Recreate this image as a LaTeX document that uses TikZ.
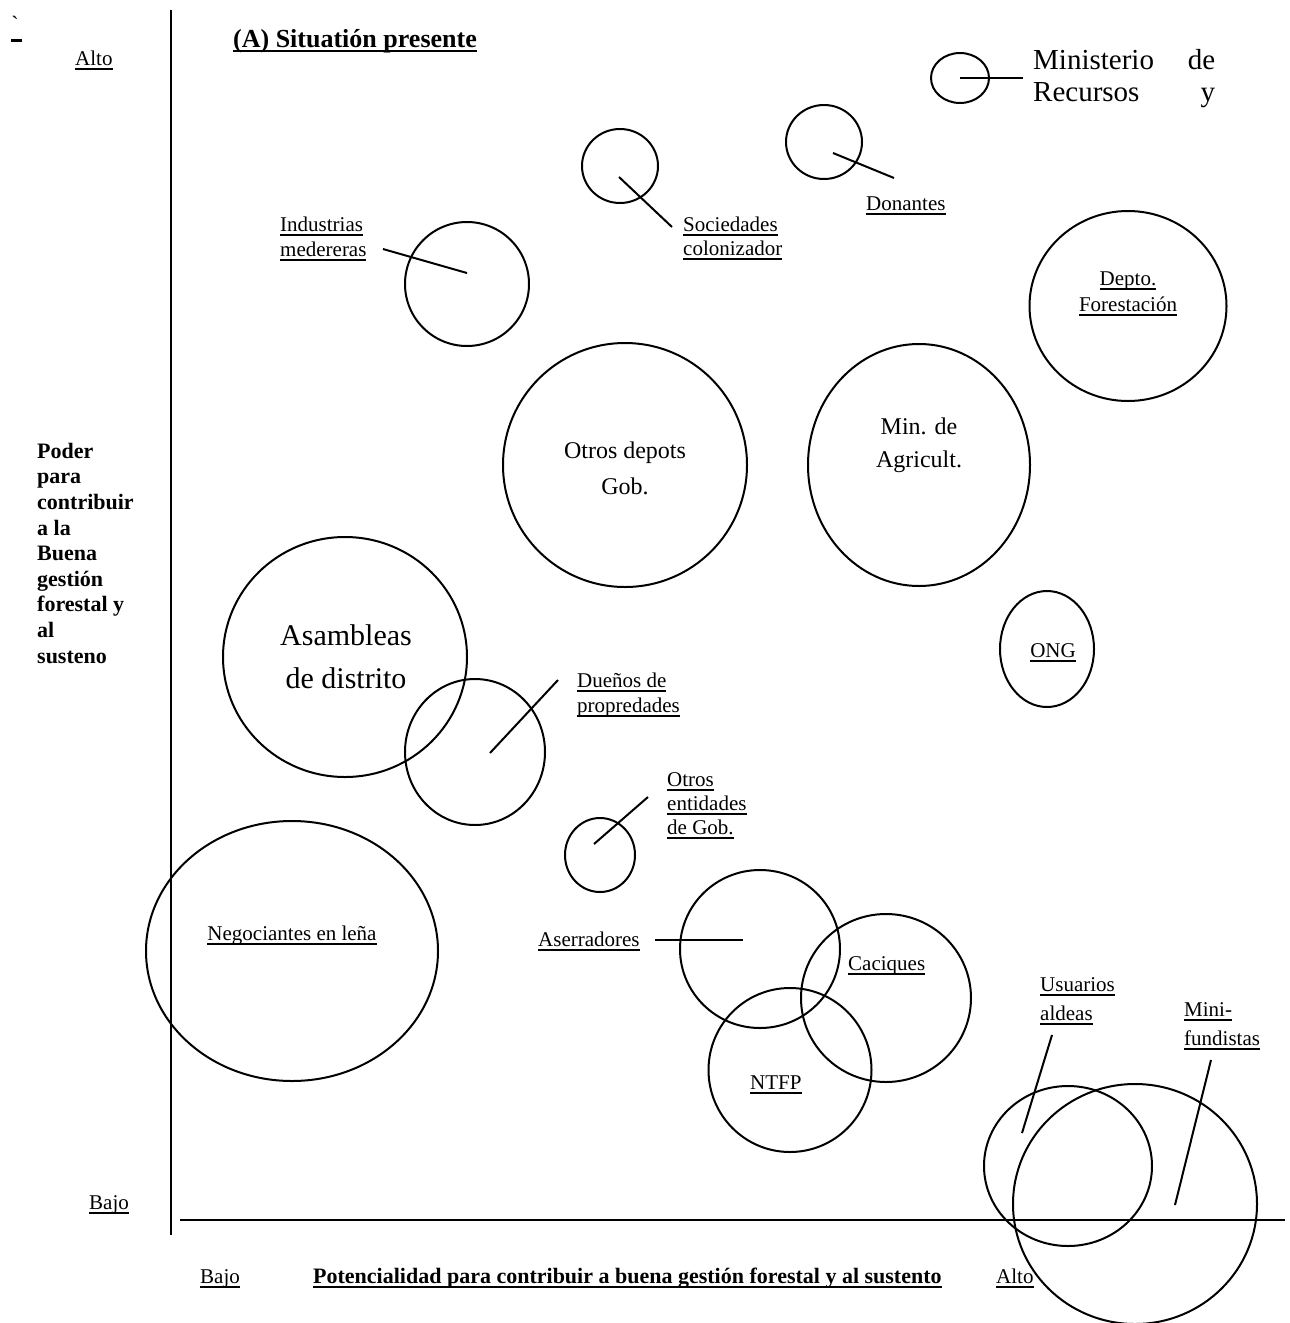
\documentclass[tikz,border=0pt]{standalone}
\usepackage{fontspec}
\setmainfont{Liberation Serif}
\usetikzlibrary{shapes.geometric}
\newcommand\ulx[1]{\setbox0\hbox{#1}\rlap{\rule[-5pt]{\wd0}{2.4pt}}\box0}
\tikzset{
  blob/.style={ellipse, draw, line width=2pt, inner sep=0pt},
  lab/.style={font=\fontsize{21}{24.5}\selectfont, inner sep=0pt, align=left, anchor=base west},
  clab/.style={font=\fontsize{21}{24.5}\selectfont, inner sep=0pt, align=center, anchor=base},
  lead/.style={line width=2pt},
  axisline/.style={line width=2.3pt},
}
\begin{document}
\begin{tikzpicture}[x=1pt,y=-1pt]
\useasboundingbox (0,0) rectangle (1290,1323);
\fill[white] (0,0) rectangle (1290,1323);

% stray marks top-left
\node[font=\fontsize{22}{24}\selectfont, inner sep=0pt, anchor=base] (tick) at (15,31) {\textasciigrave};
\draw[line width=3pt] (11,40.5) -- (22,40.5);

% axes
\coordinate (vtop) at (171,10);
\coordinate (vbot) at (171,1235);
\coordinate (hleft) at (180,1220);
\coordinate (hright) at (1285,1220);
\draw[axisline] (vtop) -- (vbot);
\draw[axisline] (hleft) -- (hright);

% axis labels (base anchor = baseline of the last line)
\node[lab] (altoL) at (75,65) {\ulx{Alto}};
\node[lab] (bajoL) at (89,1209) {\ulx{Bajo}};
\node[lab] (bajoB) at (200,1283) {\ulx{Bajo}};
\node[lab, font=\bfseries\fontsize{22}{25}\selectfont] (xtitle) at (313,1283) {\ulx{Potencialidad para contribuir a buena gestión forestal y al sustento}};
\node[lab] (altoB) at (996,1283) {\ulx{Alto}};
\node[lab, font=\bfseries\fontsize{26}{28}\selectfont] (title) at (233,47) {\ulx{(A) Situatión presente}};
\node[lab, font=\bfseries\fontsize{22}{25.6}\selectfont] (ytitle) at (37,663) {Poder\\para\\contribuir\\a la\\Buena\\gestión\\forestal y\\al\\susteno};

% ellipses
\node[blob, minimum width=58, minimum height=50] (minis) at (960,78) {};
\node[blob, minimum width=76, minimum height=74] (donan) at (824,142) {};
\node[blob, minimum width=76, minimum height=74] (socie) at (620,166) {};
\node[blob, minimum width=124, minimum height=124] (indus) at (467,284) {};
\node[blob, minimum width=197, minimum height=190] (depto) at (1128,306) {};
\node[blob, minimum width=244, minimum height=244] (otrosd) at (625,465) {};
\node[blob, minimum width=222, minimum height=242] (minag) at (919,465) {};
\node[blob, minimum width=94, minimum height=116] (ong) at (1047,649) {};
\node[blob, minimum width=244, minimum height=240] (asamb) at (345,657) {};
\node[blob, minimum width=140, minimum height=146] (duenos) at (475,752) {};
\node[blob, minimum width=70, minimum height=74] (otrase) at (600,855) {};
\node[blob, minimum width=292, minimum height=260] (negoc) at (292,951) {};
\node[blob, minimum width=160, minimum height=158] (aserr) at (760,949) {};
\node[blob, minimum width=170, minimum height=168] (caciq) at (886,998) {};
\node[blob, minimum width=163, minimum height=164] (ntfp) at (790,1070) {};
\node[blob, minimum width=168, minimum height=160] (usuar) at (1068,1166) {};
\node[blob, minimum width=244, minimum height=240] (minif) at (1135,1204) {};

% labels
\node[lab, font=\fontsize{29}{32.5}\selectfont] (minisL) at (1033,101.5) {\hbox to 182pt{Ministerio\hfill de}\\\hbox to 182pt{Recursos\hfill y}};
\node[lab] (donanL) at (866,210) {\ulx{Donantes}};
\node[lab, font=\fontsize{21}{24}\selectfont] (socieL) at (683,255) {\ulx{Sociedades}\\\ulx{colonizador}};
\node[lab, font=\fontsize{21}{25}\selectfont] (indusL) at (280,256) {\ulx{Industrias}\\\ulx{medereras}};
\node[clab, font=\fontsize{21}{26}\selectfont] (deptoL) at (1128,311) {\ulx{Depto.}\\\ulx{Forestación}};
\node[clab, font=\fontsize{24}{36}\selectfont] (otrosdL) at (625,494) {Otros depots\\Gob.};
\node[clab, font=\fontsize{24}{33}\selectfont] (minagL) at (919,467) {Min. de\\Agricult.};
\node[clab] (ongL) at (1053,657) {\ulx{ONG}};
\node[clab, font=\fontsize{30}{43}\selectfont] (asambL) at (346,688) {Asambleas\\de distrito};
\node[lab, font=\fontsize{21}{25}\selectfont] (duenosL) at (577,712) {\ulx{Dueños de}\\\ulx{propredades}};
\node[lab, font=\fontsize{21}{24}\selectfont] (otraseL) at (667,834) {\ulx{Otros}\\\ulx{entidades}\\\ulx{de Gob.}};
\node[clab] (negocL) at (292,940) {\ulx{Negociantes en leña}};
\node[lab] (aserrL) at (538,946) {\ulx{Aserradores}};
\node[lab] (caciqL) at (848,970) {\ulx{Caciques}};
\node[lab] (ntfpL) at (750,1089) {\ulx{NTFP}};
\node[lab, font=\fontsize{21}{29}\selectfont] (usuarL) at (1040,1020) {\ulx{Usuarios}\\\ulx{aldeas}};
\node[lab, font=\fontsize{21}{29}\selectfont] (minifL) at (1184,1045) {\ulx{Mini-}\\\ulx{fundistas}};

% leader lines
\coordinate (minisA) at (960,78);   \coordinate (minisB) at (1023,78);
\coordinate (donanA) at (833,153);  \coordinate (donanB) at (894,178);
\coordinate (socieA) at (619,177);  \coordinate (socieB) at (672,227);
\coordinate (indusA) at (467,273);  \coordinate (indusB) at (383,249);
\coordinate (duenosA) at (490,753); \coordinate (duenosB) at (558,680);
\coordinate (otraseA) at (594,844); \coordinate (otraseB) at (648,797);
\coordinate (aserrA) at (743,940);  \coordinate (aserrB) at (655,940);
\coordinate (usuarA) at (1022,1133); \coordinate (usuarB) at (1052,1035);
\coordinate (minifA) at (1175,1205); \coordinate (minifB) at (1211,1060);
\draw[lead] (minisA) -- (minisB);
\draw[lead] (donanA) -- (donanB);
\draw[lead] (socieA) -- (socieB);
\draw[lead] (indusA) -- (indusB);
\draw[lead] (duenosA) -- (duenosB);
\draw[lead] (otraseA) -- (otraseB);
\draw[lead] (aserrA) -- (aserrB);
\draw[lead] (usuarA) -- (usuarB);
\draw[lead] (minifA) -- (minifB);
\end{tikzpicture}
\end{document}
